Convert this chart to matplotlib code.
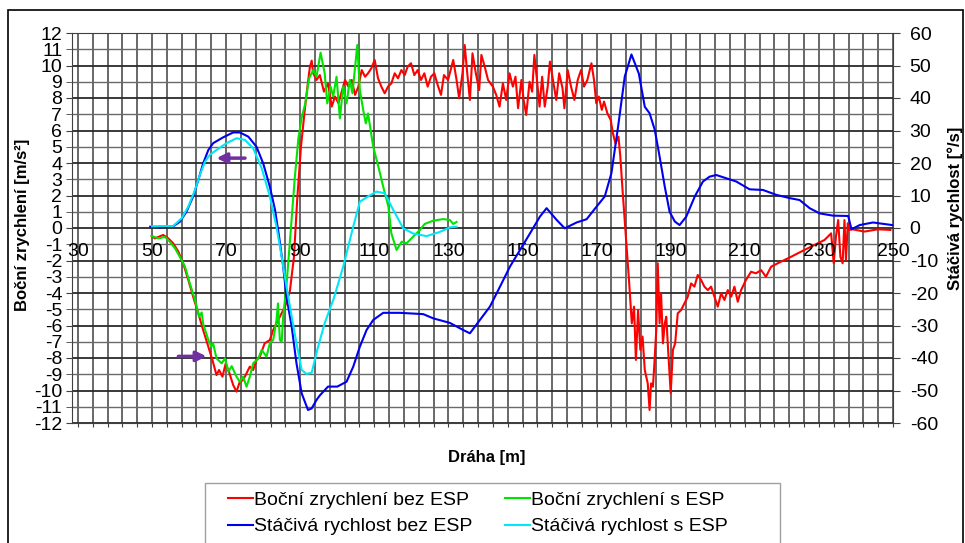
import numpy as np
import matplotlib
matplotlib.use('Agg')
import matplotlib.pyplot as plt
from matplotlib.ticker import MultipleLocator, FuncFormatter
from matplotlib.patches import Rectangle

plt.rcParams['font.family'] = ['Liberation Sans', 'DejaVu Sans']
plt.rcParams['axes.unicode_minus'] = False

# Boční zrychlení bez ESP [m/s2]
red_x = [49.9, 50.8, 51.7, 53.0, 54.4, 55.7, 57.1, 58.4, 59.8, 61.1, 62.5, 63.8, 65.2, 66.3, 67.4, 68.1,
         69.0, 69.9, 70.9, 71.9, 72.8, 73.7, 74.6, 75.5, 76.4, 77.3, 78.2, 79.1, 80.4, 81.8, 82.7, 83.6,
         84.5, 85.9, 87.2, 88.3, 89.2, 90.2, 91.2, 92.0, 92.6, 93.1, 93.5, 94.4, 95.3, 96.4, 97.5, 98.5,
         99.4, 100.3, 101.2, 102.1, 103.0, 103.9, 104.8, 105.7, 106.6, 107.5, 108.3, 109.2, 110.1, 111.0,
         111.9, 112.8, 113.7, 114.6, 115.5, 116.4, 117.3, 118.2, 119.0, 119.9, 120.8, 121.7, 122.6, 123.5,
         124.4, 125.3, 126.2, 127.1, 128.0, 128.8, 129.9, 131.3, 132.2, 132.9, 133.8, 134.4, 135.0, 135.8,
         136.5, 137.4, 138.3, 138.9, 139.8, 140.7, 142.0, 142.9, 143.8, 144.7, 145.6, 146.5, 147.4, 148.1,
         148.8, 149.7, 150.3, 151.0, 151.9, 152.6, 153.2, 153.9, 154.6, 155.3, 156.0, 156.8, 157.4, 158.2,
         159.1, 159.9, 160.8, 161.3, 162.2, 163.1, 164.0, 164.9, 165.8, 166.6, 167.5, 168.6, 169.3, 169.9,
         170.6, 171.4, 172.0, 172.9, 173.8, 174.4, 175.1, 175.9, 176.4, 177.0, 177.9, 178.8, 179.5, 180.1,
         180.6, 181.2, 181.8, 182.4, 183.0, 183.8, 184.3, 184.7, 185.2, 185.6, 186.1, 186.5, 187.0, 187.4,
         187.9, 188.4, 188.8, 189.3, 190.0, 190.6, 191.2, 191.9, 192.8, 193.7, 194.6, 195.5, 196.4, 197.3,
         198.2, 199.1, 200.0, 200.9, 201.8, 202.7, 203.6, 204.5, 205.4, 206.3, 207.2, 208.1, 209.0, 210.3,
         211.7, 213.0, 214.4, 215.7, 217.1, 218.9, 220.7, 222.5, 224.3, 226.1, 227.9, 229.7, 231.5, 233.3,
         234.0, 234.6, 235.2, 235.8, 236.4, 236.9, 237.3, 237.8, 238.2, 239.1, 242.3, 245.9, 249.3]
red_y = [-0.49, -0.64, -0.55, -0.43, -0.64, -0.94, -1.45, -2.17, -3.2, -4.23, -5.25, -6.28, -7.3, -8.12,
         -9.05, -8.74, -9.15, -8.33, -8.94, -9.66, -10.07, -9.46, -9.36, -8.94, -8.53, -8.74, -8.12, -7.92,
         -7.1, -6.89, -6.28, -5.87, -5.46, -4.84, -3.9, -1.8, 1.8, 5.0, 7.2, 8.8, 9.9, 10.3, 9.52, 9.11,
         9.41, 8.39, 8.9, 7.47, 8.09, 7.68, 8.39, 9.11, 8.7, 9.11, 8.19, 8.7, 9.72, 9.31, 9.52, 9.83, 10.34,
         9.21, 8.7, 8.29, 8.7, 8.9, 9.52, 9.21, 9.72, 9.41, 9.93, 10.14, 9.41, 9.72, 9.11, 9.52, 8.7, 9.31,
         9.52, 8.8, 8.19, 9.41, 9.11, 10.34, 9.11, 7.98, 9.52, 11.26, 9.72, 7.88, 10.75, 9.52, 8.49, 10.65,
         9.93, 9.11, 8.7, 8.19, 7.47, 8.9, 7.88, 9.52, 8.7, 9.31, 7.37, 9.11, 7.88, 6.96, 9.0, 8.39, 10.65,
         9.11, 7.47, 9.31, 7.47, 8.7, 10.24, 9.11, 7.88, 9.52, 8.6, 7.37, 9.72, 8.7, 7.88, 9.11, 9.72, 8.7,
         9.11, 10.14, 9.11, 7.68, 8.09, 7.27, 7.78, 7.06, 6.65, 5.83, 5.2, 5.62, 4.39, 2.34, -0.53, -3.4,
         -5.87, -4.84, -8.12, -5.05, -7.5, -6.68, -8.74, -9.56, -11.2, -9.56, -9.77, -8.33, -6.28, -2.17,
         -5.87, -4.02, -7.1, -5.87, -5.46, -7.5, -10.17, -7.5, -7.1, -5.25, -5.05, -4.64, -4.23, -3.41,
         -3.61, -2.89, -3.2, -3.61, -3.82, -3.61, -4.23, -4.84, -4.02, -4.43, -3.82, -4.23, -3.61, -4.54,
         -3.82, -3.2, -2.69, -2.79, -2.59, -3.0, -2.38, -2.17, -1.97, -1.77, -1.56, -1.35, -1.15, -0.94,
         -0.74, -0.33, -2.17, -0.53, 0.49, -1.77, -2.17, 0.49, -1.97, 0.29, -0.12, -0.08, -0.22, -0.08, -0.12]

# Boční zrychlení s ESP [m/s2]
green_x = [49.9, 51.7, 53.5, 54.8, 56.2, 57.5, 58.9, 60.2, 61.6, 62.7, 63.4, 63.8, 65.2, 66.0, 66.5, 67.4,
           68.8, 69.7, 70.6, 71.5, 72.8, 73.7, 74.6, 75.5, 76.4, 77.3, 78.7, 79.6, 80.9, 81.8, 82.7, 83.6,
           84.0, 84.5, 85.0, 85.4, 86.3, 87.5, 88.5, 89.5, 90.4, 91.3, 92.4, 93.5, 94.4, 95.5, 96.6, 97.3,
           98.2, 98.9, 99.8, 100.7, 101.6, 102.5, 103.4, 104.1, 105.4, 106.1, 107.0, 107.7, 108.3, 109.7,
           111.1, 112.4, 113.8, 114.6, 116.0, 117.4, 118.7, 120.5, 122.3, 123.6, 125.9, 128.6, 130.4, 131.3,
           132.2]
green_y = [-0.49, -0.64, -0.55, -0.84, -1.25, -1.77, -2.38, -3.41, -4.43, -5.46, -5.2, -5.9, -6.89, -7.3,
           -7.1, -8.02, -8.33, -8.02, -8.84, -8.5, -9.15, -9.46, -9.15, -9.77, -9.15, -8.33, -8.02, -7.5,
           -7.92, -7.1, -6.89, -5.66, -4.64, -6.89, -7.0, -5.46, -3.5, 0.0, 3.0, 5.5, 6.8, 7.6, 9.21, 9.72,
           9.31, 10.79, 9.52, 7.67, 8.7, 8.09, 9.31, 6.75, 8.7, 7.67, 9.11, 8.29, 11.26, 8.49, 7.26, 6.44,
           7.05, 5.0, 3.77, 2.54, 1.31, -0.33, -1.35, -0.84, -0.94, -0.53, -0.12, 0.25, 0.45, 0.55, 0.49,
           0.25, 0.37]

# Stáčivá rychlost bez ESP [°/s]
blue_x = [49.5, 52.1, 55.7, 57.5, 59.3, 61.1, 62.5, 63.8, 65.2, 66.5, 69.2, 71.9, 73.7, 76.0, 78.2, 80.0,
          81.8, 83.2, 84.3, 85.4, 86.3, 87.7, 89.0, 90.4, 92.1, 93.1, 94.4, 95.3, 97.5, 100.0, 102.5, 104.3,
          106.1, 107.9, 109.7, 112.4, 116.9, 123.2, 125.9, 130.4, 134.0, 135.8, 138.5, 141.2, 143.9, 146.6,
          149.3, 152.0, 154.7, 156.5, 159.2, 161.4, 164.6, 167.3, 170.0, 172.2, 174.0, 175.8, 177.6, 179.4,
          181.4, 183.0, 184.3, 185.7, 187.0, 188.4, 189.7, 191.1, 192.4, 194.2, 196.5, 198.7, 200.5, 202.3,
          205.0, 207.7, 211.3, 214.9, 218.5, 222.1, 224.8, 227.5, 230.2, 233.8, 237.9, 238.8, 241.0, 244.6,
          249.8]
blue_y = [0.4, 0.2, 0.5, 1.9, 5.0, 9.7, 14.8, 19.9, 24.0, 26.1, 27.9, 29.4, 29.4, 28.1, 25.0, 19.9, 12.7,
          5.6, -2.7, -11.9, -21.2, -30.4, -41.7, -50.9, -56.0, -55.5, -52.9, -51.5, -48.8, -48.8, -47.3,
          -42.7, -36.5, -31.4, -28.3, -26.1, -26.1, -26.5, -27.8, -29.2, -31.4, -32.4, -28.3, -24.2, -18.1,
          -11.9, -6.8, -1.7, 3.5, 6.1, 2.5, -0.1, 1.7, 2.7, 6.6, 9.7, 16.9, 31.2, 46.6, 53.4, 47.5, 37.3,
          35.3, 30.2, 22.0, 12.7, 5.0, 2.0, 0.9, 3.5, 9.7, 14.3, 15.8, 16.3, 15.3, 14.3, 11.9, 11.7, 10.2,
          9.2, 8.6, 6.1, 4.5, 3.8, 3.7, -0.4, 0.9, 1.7, 0.9]

# Stáčivá rychlost s ESP [°/s]
cyan_x = [50.0, 52.0, 55.7, 58.0, 59.8, 61.6, 62.9, 64.3, 65.6, 67.4, 70.1, 72.8, 75.1, 77.3, 79.6, 81.8,
          83.6, 85.0, 86.3, 87.7, 89.0, 90.4, 91.7, 93.1, 94.6, 96.6, 99.1, 101.6, 104.3, 106.1, 108.3, 110.6,
          112.8, 115.1, 117.8, 120.5, 124.1, 127.7, 130.4, 132.2]
cyan_y = [0.5, 0.6, 0.6, 3.0, 6.6, 11.7, 16.3, 20.4, 22.5, 24.0, 26.1, 27.6, 27.1, 24.5, 18.4, 9.7, 0.4,
          -8.9, -18.1, -27.3, -35.5, -43.7, -44.9, -44.5, -37.5, -29.3, -21.5, -11.9, 0.4, 8.1, 9.7, 11.2,
          10.7, 5.6, -0.1, -1.7, -2.5, -1.2, 0.2, 0.4]

x_ticks = [30, 50, 70, 90, 110, 130, 150, 170, 190, 210, 230, 250]
legend_labels = ['Boční zrychlení bez ESP', 'Boční zrychlení s ESP',
                 'Stáčivá rychlost bez ESP', 'Stáčivá rychlost s ESP']

W, H = 965, 543
fig = plt.figure(figsize=(W / 100, H / 100), dpi=100)
ax = fig.add_axes([72 / W, 1 - 423 / H, 821 / W, 390 / H])
ax2 = ax.twinx()

ax.set_xlim(28.4, 250)
ax.set_ylim(-12, 12)
ax2.set_ylim(-60, 60)

l_red, = ax.plot(red_x, red_y, color='#ff0000', lw=1.5)
l_green, = ax.plot(green_x, green_y, color='#00e400', lw=1.5)
l_blue, = ax2.plot(blue_x, blue_y, color='#0000f0', lw=1.5)
l_cyan, = ax2.plot(cyan_x, cyan_y, color='#00e8f8', lw=1.5)

# grid
ax.set_axisbelow(True)
ax.set_xticks(np.arange(30, 251, 4))
ax.tick_params(axis='x', labelbottom=False, length=3, color='#404040')
ax.grid(axis='x', color='#404040', lw=1.1)
fmt = FuncFormatter(lambda v, p: f'{int(round(v))}')
ax.yaxis.set_major_locator(MultipleLocator(2))
ax.yaxis.set_minor_locator(MultipleLocator(1))
ax.yaxis.set_major_formatter(fmt)
ax.yaxis.set_minor_formatter(fmt)
ax.grid(axis='y', which='major', color='#2a2a2a', lw=1.3)
ax.grid(axis='y', which='minor', color='#6a6a6a', lw=1.0)
ax.tick_params(axis='y', which='both', labelsize=14, length=4, pad=3, color='#404040')
for s in ax.spines.values():
    s.set_color('#404040')
for s in ax2.spines.values():
    s.set_visible(False)

ax2.set_yticks(np.arange(-60, 61, 10))
ax2.tick_params(axis='y', labelsize=14, length=5, pad=7, color='#404040')

# x tick labels sit under the zero line
sec = ax2.secondary_xaxis(0.5)
sec.set_alignment('bottom')
sec.set_xticks(x_ticks, [str(t) for t in x_ticks])
sec.tick_params(length=0, labelsize=14, pad=11)
for s in sec.spines.values():
    s.set_visible(False)

ax.set_ylabel('Boční zrychlení [m/s²]', fontsize=12, fontweight='bold')
ax.yaxis.set_label_coords(-0.051, 0.508)
ax2.set_ylabel('Stáčivá rychlost [°/s]', fontsize=12, fontweight='bold')
ax2.yaxis.set_label_coords(1.066, 0.551)
ax.set_xlabel('Dráha [m]', fontsize=12, fontweight='bold')
ax.xaxis.set_label_coords(0.5055, -0.068)

# purple arrows
arrow_kw = dict(arrowstyle='-|>', color='#7030a0', lw=2.5, mutation_scale=15, shrinkA=0, shrinkB=0)
ax2.annotate('', xy=(67.4, 4.3), xytext=(75.1, 4.3), xycoords=ax.transData, arrowprops=arrow_kw)
ax2.annotate('', xy=(64.7, -7.9), xytext=(57.1, -7.9), xycoords=ax.transData, arrowprops=arrow_kw)

# legend (column-major fill)
fig.legend([l_red, l_blue, l_green, l_cyan],
           [legend_labels[0], legend_labels[2], legend_labels[1], legend_labels[3]],
           ncol=2, loc='upper left', bbox_to_anchor=(210 / W, 1 - 474 / H), frameon=False,
           fontsize=14, handlelength=1.3, handletextpad=0.05, columnspacing=1.7, labelspacing=0.45,
           borderpad=0.4)
fig.patches.append(Rectangle((205 / W, 1 - 570 / H), 575 / W, 87 / H, transform=fig.transFigure,
                             fill=False, edgecolor='#a0a0a0', lw=1.0))
fig.patches.append(Rectangle((8 / W, 1 - 580 / H), 955 / W, 570 / H, transform=fig.transFigure,
                             fill=False, edgecolor='black', lw=1.2))

fig.savefig('out.png', dpi=100)
